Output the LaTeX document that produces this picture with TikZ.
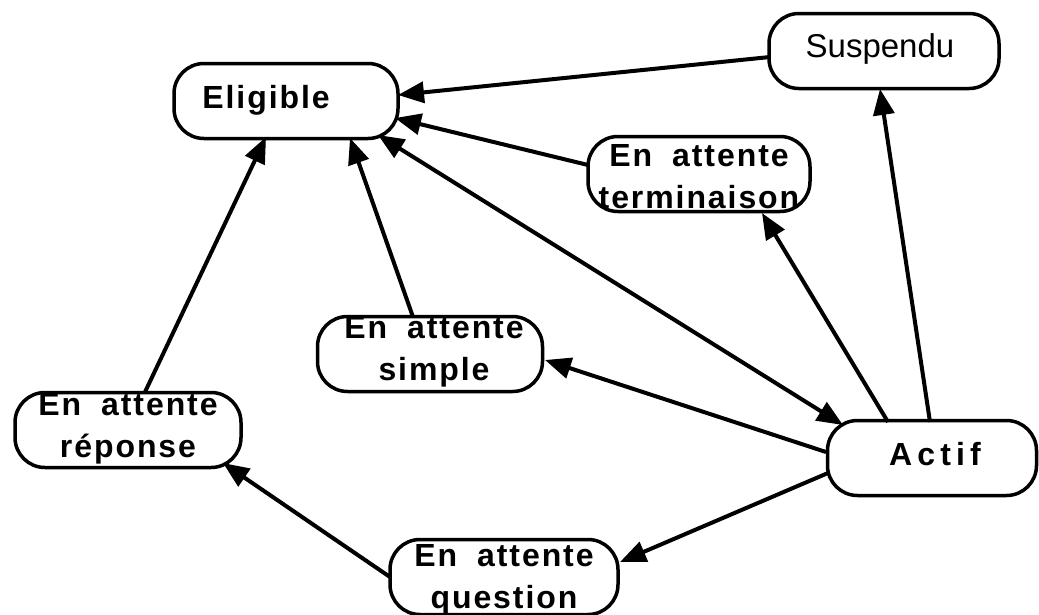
\documentclass[tikz,border=0pt]{standalone}
\usepackage{fontspec}
\setmainfont{Liberation Sans}
\newfontfamily\statefont[LetterSpace=6]{Liberation Sans}
\usetikzlibrary{arrows.meta,calc}
\newcommand\wordgap{\hspace{20pt}}
\tikzset{
  state/.style={draw, line width=3.5pt, rounded corners=30pt, inner sep=0pt,
                minimum height=75pt},
  statetext/.style={font=\fontsize{32}{42}\selectfont\statefont\bfseries,
                    align=center, inner sep=0pt},
  trans/.style={line width=4pt, -{Triangle[length=26pt,width=21pt]}},
  bitrans/.style={line width=4pt,
                  {Triangle[length=26pt,width=21pt]}-{Triangle[length=26pt,width=21pt]}},
}
\begin{document}
\begin{tikzpicture}[x=1pt,y=-1pt]
  \useasboundingbox (0,0) rectangle (1039,614);

  % process states
  \node[state, minimum width=224pt] (eligible)    at (286,101) {};
  \node[state, minimum width=230pt] (suspendu)    at (884,51)  {};
  \node[state, minimum width=222pt] (terminaison) at (699,174) {};
  \node[state, minimum width=225pt] (simple)      at (430,354) {};
  \node[state, minimum width=226pt] (reponse)     at (128,430) {};
  \node[state, minimum width=209pt] (actif)       at (932,458) {};
  \node[state, minimum width=228pt] (question)    at (504,577) {};

  % state names
  \node[statetext] (eligible-t)    at (266,100) {Eligible};
  \node[statetext, font=\fontsize{33}{42}\selectfont]
                   (suspendu-t)    at (880,49)  {Suspendu};
  \node[statetext] (terminaison-t) at (699,177) {En\wordgap attente\\terminaison};
  \node[statetext] (simple-t)      at (434,352) {En\wordgap attente\\simple};
  \node[statetext] (reponse-t)     at (128,429) {En\wordgap attente\\réponse};
  \node[statetext, font=\fontsize{32}{42}\selectfont\statefont\bfseries\addfontfeature{LetterSpace=16}]
                   (actif-t)       at (935,454) {Actif};
  \node[statetext] (question-t)    at (504,580) {En\wordgap attente\\question};

  % transitions
  \draw[trans]   ($(suspendu)+(-114,6)$)    -- ($(eligible)+(112,-6)$);
  \draw[trans]   ($(terminaison)+(-111,-9)$) -- ($(eligible)+(109,17)$);
  \draw[bitrans] ($(eligible)+(92,34)$)     -- ($(actif)+(-89,-33)$);
  \draw[trans]   ($(simple)+(-17,-37)$)     -- ($(eligible)+(64,37)$);
  \draw[trans]   ($(reponse)+(17,-38)$)     -- ($(eligible)+(-20,36)$);
  \draw[trans]   ($(actif)+(-2,-36)$)       -- ($(suspendu)+(-4,38)$);
  \draw[trans]   ($(actif)+(-44,-36)$)      -- ($(terminaison)+(63,39)$);
  \draw[trans]   ($(actif)+(-106,-6)$)      -- ($(simple)+(115,6)$);
  \draw[trans]   ($(actif)+(-104,15)$)      -- ($(question)+(116,-15)$);
  \draw[trans]   ($(question)+(-114,0)$)    -- ($(reponse)+(95,33)$);
\end{tikzpicture}
\end{document}
